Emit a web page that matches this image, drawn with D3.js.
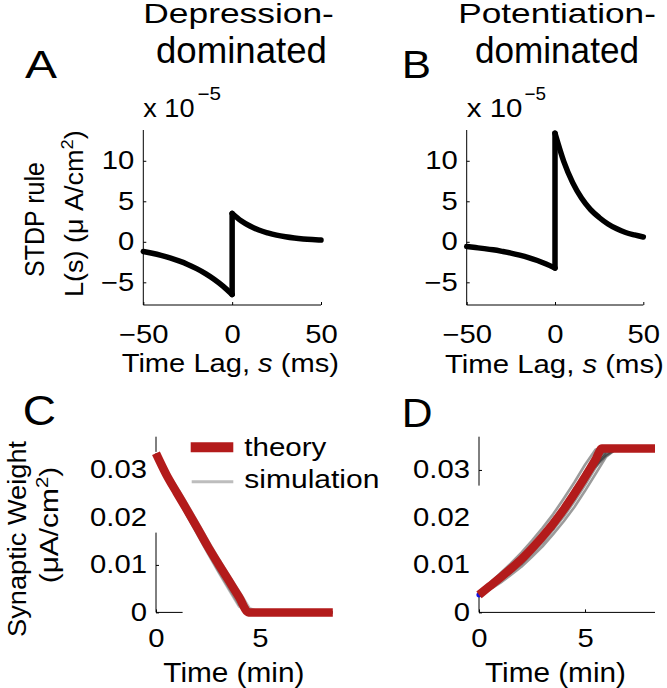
<!DOCTYPE html>
<html><head><meta charset="utf-8">
<script src="https://cdn.jsdelivr.net/npm/d3@7"></script>
<style>
html,body{margin:0;padding:0;background:#fff;}
svg{display:block;font-family:"Liberation Sans",Arial,Helvetica,sans-serif;}
</style></head><body>
<svg id="chart" width="667" height="688"></svg>
<script>
// ---------------- data ----------------
const lagNeg = [-50,-45,-40,-35,-30,-25,-20,-15,-10,-5,0];
const lagPos = [0,5,10,15,20,25,30,35,40,45,50];
const depLeft  = [-1.2,-1.42,-1.68,-1.99,-2.36,-2.79,-3.31,-3.92,-4.64,-5.49,-6.5];
const depRight = [3.5,2.6,1.95,1.45,1.1,0.82,0.62,0.47,0.36,0.28,0.22];
const potLeft  = [-0.58,-0.71,-0.84,-0.99,-1.18,-1.39,-1.65,-1.95,-2.31,-2.74,-3.24];
const potRight = [13.4,9.9,7.3,5.4,4.0,3.0,2.2,1.6,1.15,0.85,0.6];

const lagTicks = [-50,0,50];
const stdpTicks = [-5,0,5,10];
const timeTicks = [0,5];
const weightTicks = [0,0.01,0.02,0.03];

const theoryTimeC = [0,0.5,1,1.5,2,2.5,3,3.5,4,4.45,8.5];
const theoryC = [0.0335,0.029,0.0252,0.0215,0.0177,0.0138,0.0102,0.0067,0.0032,0,0];
const simTimeC = [0,0.5,1,1.5,2,2.5,3,3.5,4,4.5,5,8.5];
const simC1 = [0.0335,0.0284,0.0243,0.0203,0.0163,0.0123,0.0085,0.0048,0.0012,0,0,0];
const simC2 = [0.0335,0.0297,0.0264,0.0228,0.0190,0.0151,0.0114,0.0079,0.0044,0.0009,0,0];
const simC3 = [0.0335,0.0285,0.0245,0.0204,0.0165,0.0126,0.0087,0.0051,0.0015,0,0,0];
const simC4 = [0.0335,0.0293,0.0258,0.0221,0.0184,0.0145,0.0108,0.0072,0.0038,0.0003,0,0];

const theoryTimeD = [0,0.5,1,1.5,2,2.5,3,3.5,4,4.5,5,5.5,5.8,8.3];
const theoryD = [0.0037,0.0055,0.0073,0.0092,0.0112,0.0135,0.0160,0.0187,0.0217,0.0250,0.0285,0.0322,0.0345,0.0345];
const simTimeD = [0,0.5,1,1.5,2,2.5,3,3.5,4,4.5,5,5.5,6,6.5];
const simD1 = [0.0037,0.0048,0.0062,0.0079,0.0096,0.0117,0.0139,0.0165,0.0192,0.0222,0.0256,0.0292,0.0328,0.0345];
const simD2 = [0.0037,0.0061,0.0082,0.0103,0.0126,0.0151,0.0178,0.0207,0.0240,0.0274,0.0311,0.0343,0.0345,0.0345];
const simD3 = [0.0037,0.0053,0.0070,0.0094,0.0108,0.0138,0.0155,0.0192,0.0210,0.0255,0.0278,0.0328,0.0345,0.0345];
const simD4 = [0.0037,0.0057,0.0071,0.0088,0.0116,0.0131,0.0165,0.0181,0.0222,0.0244,0.0292,0.0314,0.0340,0.0345];
const simD5 = [0.0037,0.0052,0.0076,0.0090,0.0106,0.0141,0.0152,0.0190,0.0207,0.0258,0.0274,0.0331,0.0345,0.0345];
const simD6 = [0.0037,0.0056,0.0068,0.0096,0.0114,0.0128,0.0166,0.0180,0.0225,0.0241,0.0296,0.0311,0.0333,0.0345];
const simD7 = [0.0037,0.0060,0.0077,0.0087,0.0119,0.0140,0.0156,0.0196,0.0213,0.0261,0.0281,0.0335,0.0345,0.0345];
const simD8 = [0.0037,0.0049,0.0072,0.0093,0.0104,0.0133,0.0161,0.0176,0.0219,0.0239,0.0287,0.0307,0.0330,0.0345];
const simD9 = [0.0037,0.0050,0.0066,0.0084,0.0102,0.0124,0.0147,0.0174,0.0202,0.0234,0.0268,0.0305,0.0337,0.0345];
const simD10 = [0.0037,0.0054,0.0074,0.0091,0.0110,0.0136,0.0158,0.0186,0.0215,0.0251,0.0283,0.0320,0.0344,0.0345];

const seriesNames = ["theory","simulation"];

// ---------------- styles ----------------
const RED = "#b31b1b";
const TICKFONT = 25, TICKSX = 1.17;
const svg = d3.select("#chart");

// ---------------- helpers ----------------
function buildText(t, parts){
  parts.forEach(p=>{
    const ts = t.append("tspan").text(p.t);
    if (p.italic) ts.attr("font-style","italic");
    if (p.size) ts.attr("font-size", p.size);
    if (p.dy) ts.attr("dy", p.dy);
  });
}
function hText(parts, x0, x1, base, size, sy){
  const t = svg.append("text").attr("font-size", size).attr("fill","#000");
  buildText(t, typeof parts === "string" ? [{t:parts}] : parts);
  const bb = t.node().getBBox();
  const s = (x1 - x0) / bb.width;
  t.attr("transform", `translate(${x0},${base}) scale(${s},${sy || 1}) translate(${-bb.x},0)`);
  return t;
}
function vText(parts, y0, y1, base, size){
  const t = svg.append("text").attr("font-size", size).attr("fill","#000");
  buildText(t, typeof parts === "string" ? [{t:parts}] : parts);
  const bb = t.node().getBBox();
  const s = (y1 - y0) / bb.width;
  const cx = bb.x + bb.width/2;
  t.attr("transform", `translate(${base},${(y0+y1)/2}) rotate(-90) scale(${s},1) translate(${-cx},0)`);
  return t;
}
function inSegs(v, segs){ return segs.some(([a,b]) => v >= Math.min(a,b)-1e-9 && v <= Math.max(a,b)+1e-9); }

function drawAxes(x, y, o){
  const g = svg.append("g");
  const xa = g.append("g").attr("transform", `translate(0,${y.range()[0]})`)
    .call(d3.axisBottom(x).tickValues(o.xTicks).tickSize(-3).tickPadding(o.xPad).tickFormat(o.xFmt));
  xa.attr("font-family", null).attr("font-size", TICKFONT);
  xa.select(".domain").remove();
  xa.selectAll(".tick").each(function(d){
    const tk = d3.select(this);
    tk.select("line").attr("stroke","#000").attr("stroke-width",1).style("display", inSegs(d, o.xSegs) ? null : "none");
    tk.select("text").attr("fill","#000").attr("transform", `scale(${TICKSX},1)`);
  });
  o.xSegs.forEach(([a,b]) => g.append("line").attr("x1", x(a)).attr("x2", x(b))
    .attr("y1", y.range()[0]).attr("y2", y.range()[0]).attr("stroke","#000").attr("stroke-width",1));
  const ya = g.append("g").attr("transform", `translate(${x.range()[0]},0)`)
    .call(d3.axisLeft(y).tickValues(o.yTicks).tickSize(-3).tickPadding(o.yPad).tickFormat(o.yFmt));
  ya.attr("font-family", null).attr("font-size", TICKFONT);
  ya.select(".domain").remove();
  ya.selectAll(".tick").each(function(d){
    const tk = d3.select(this);
    tk.select("line").attr("stroke","#000").attr("stroke-width",1).style("display", inSegs(d, o.ySegs) ? null : "none");
    tk.select("text").attr("fill","#000").attr("x", -o.yPad / TICKSX).attr("transform", `scale(${TICKSX},1)`);
  });
  o.ySegs.forEach(([a,b]) => g.append("line").attr("y1", y(a)).attr("y2", y(b))
    .attr("x1", x.range()[0]).attr("x2", x.range()[0]).attr("stroke","#000").attr("stroke-width",1));
}

// ---------------- STDP panels (A, B) ----------------
function stdpPanel(xr, left, right){
  const x = d3.scaleLinear().domain([-50,50]).range(xr);
  const y = d3.scaleLinear().domain([-7.8,13.8]).range([305,130]);
  drawAxes(x, y, {xTicks: lagTicks, yTicks: stdpTicks, xFmt: d3.format("d"), yFmt: d3.format("d"),
    xPad: 20, yPad: 9, xSegs: [[-50,50]], ySegs: [[-7.8,13.8]]});
  const line = d3.line().x(d=>x(d[0])).y(d=>y(d[1])).curve(d3.curveMonotoneX);
  const g = svg.append("g").attr("fill","none").attr("stroke","#000").attr("stroke-width",5.5)
    .attr("stroke-linecap","round").attr("stroke-linejoin","round");
  g.append("path").attr("d", line(lagNeg.map((s,i)=>[s,left[i]])));
  g.append("path").attr("d", d3.line()([[x(0),y(left[left.length-1])],[x(0),y(right[0])]]));
  g.append("path").attr("d", line(lagPos.map((s,i)=>[s,right[i]])));
}
stdpPanel([143.3,321], depLeft, depRight);
stdpPanel([466.7,643.3], potLeft, potRight);

// ---------------- weight panels (C, D) ----------------
const wFmt = d => d === 0 ? "0" : d3.format(".2f")(d);
function weightPanel(xr, xMax, xSegs, ySegs, sims, simT, thT, th, blue, simOpacity){
  const x = d3.scaleLinear().domain([0,xMax]).range(xr);
  const y = d3.scaleLinear().domain([0,0.037]).range([612.4,436.7]);
  drawAxes(x, y, {xTicks: timeTicks, yTicks: weightTicks, xFmt: d3.format("d"), yFmt: wFmt,
    xPad: 17, yPad: 9, xSegs, ySegs});
  const lin = d3.line().x(d=>x(d[0])).y(d=>y(d[1]));
  const gs = svg.append("g").attr("fill","none").attr("stroke","#222").attr("stroke-opacity",simOpacity)
    .attr("stroke-width",2.6).attr("stroke-linejoin","round");
  sims.forEach(s => gs.append("path").attr("d", lin(simT.map((t,i)=>[t,s[i]]))));
  if (blue) svg.append("circle").attr("cx", x(0)).attr("cy", y(th[0])).attr("r", 2.6).attr("fill","#1010e0");
  svg.append("path").attr("fill","none").attr("stroke",RED).attr("stroke-width",8.5)
    .attr("stroke-linejoin","round").attr("stroke-linecap","butt")
    .attr("d", d3.line().x(d=>x(d[0])).y(d=>y(d[1])).curve(d3.curveMonotoneX)(thT.map((t,i)=>[t,th[i]])));
}
weightPanel([156,332.8], 8.5, [[0,1.28]], [[0,0.0168],[0.0338,0.037]],
  [simC1,simC2,simC3,simC4], simTimeC, theoryTimeC, theoryC, false, 0.3);
weightPanel([479,655], 8.3, [[0,8.3]], [[0,0.0035],[0.0267,0.037]],
  [simD1,simD2,simD3,simD4,simD5,simD6,simD7,simD8,simD9,simD10], simTimeD, theoryTimeD, theoryD, true, 0.45);

// ---------------- legend (C) ----------------
svg.append("line").attr("x1",190.7).attr("x2",233.3).attr("y1",447.3).attr("y2",447.3)
  .attr("stroke",RED).attr("stroke-width",10);
svg.append("line").attr("x1",191.7).attr("x2",233.3).attr("y1",481.7).attr("y2",481.7)
  .attr("stroke","#bdbdbd").attr("stroke-width",3);
hText(seriesNames[0], 244.3, 327, 456, 25);
hText(seriesNames[1], 244.3, 379.5, 488.3, 25);

// ---------------- texts ----------------
hText("Depression-", 143.3, 334, 23.3, 37, 0.73);
hText("dominated", 156, 327, 63.3, 37);
hText("Potentiation-", 458.3, 656, 22.7, 37, 0.73);
hText("dominated", 475, 639, 63.3, 37);

hText("A", 25, 57, 78.3, 39);
hText("B", 401.7, 431, 78.3, 39);
hText("C", 22.7, 56, 425, 42);
hText("D", 401.7, 432.5, 426.7, 40);

hText("x 10", 143.3, 194.5, 116.7, 25);
hText("\u22125", 197.5, 221, 100, 18);
hText("x 10", 466.7, 522.5, 116.7, 25);
hText("\u22125", 524.5, 546, 100, 18);

const lagLabel = [{t:"Time Lag, "},{t:"s",italic:true},{t:" (ms)"}];
hText(lagLabel, 121.7, 339, 372, 25.5);
hText(lagLabel, 445, 664, 372.5, 25.5);
hText("Time (min)", 163.3, 304.5, 681.7, 27);
hText("Time (min)", 485, 626, 681.7, 27);

vText("STDP rule", 162, 277, 44, 27.5);
vText([{t:"L(s) (\u03bc A/cm"},{t:"2",size:17,dy:-10},{t:")",dy:10}], 130, 297, 82.7, 25);
vText("Synaptic Weight", 440, 637, 26, 26);
vText([{t:"(\u03bcA/cm"},{t:"2",size:17,dy:-10},{t:")",dy:10}], 466.7, 583.3, 58, 25);
</script>
</body></html>
